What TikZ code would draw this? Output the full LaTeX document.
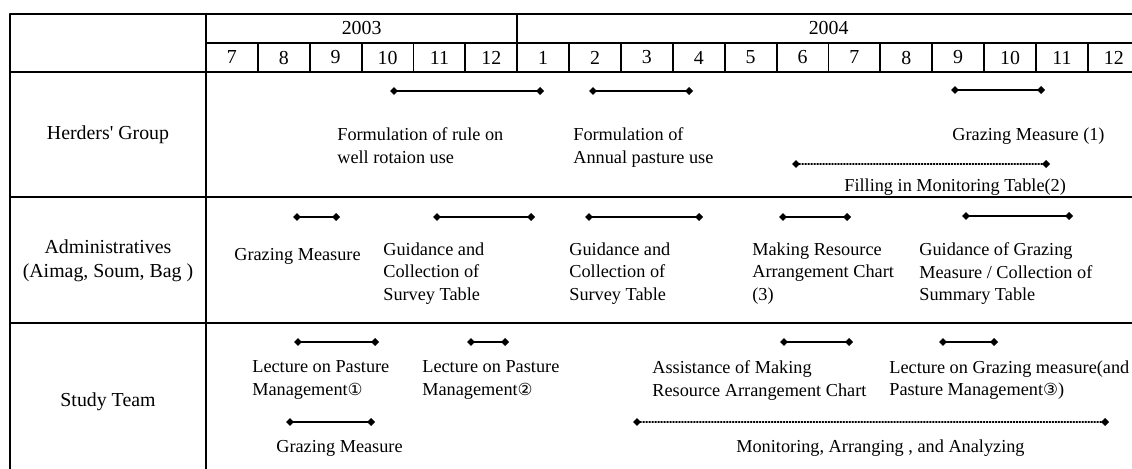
\documentclass[tikz,border=0pt]{standalone}
\usepackage{fontspec}
\setmainfont{Liberation Serif}
\newfontfamily\circfont{DejaVu Sans}
\usepackage{tikz}
\usetikzlibrary{arrows.meta}
\newcommand{\cnum}[1]{{\circfont\fontsize{9.5}{13}\selectfont #1}}
\tikzstyle{every node}=[font=\fontsize{10.4}{13}\selectfont, inner sep=0pt]
\tikzstyle{tableline}=[line width=1.1pt]
\tikzstyle{period}=[<->, line width=0.9pt]
\tikzstyle{plan}=[<->, line width=0.7pt, densely dotted]
\tikzstyle{task}=[anchor=north west, align=left]
\tikzstyle{rowname}=[font=\fontsize{11.3}{13.6}\selectfont, align=center]

\begin{document}
\begin{tikzpicture}[line cap=round,line join=round,>={Diamond[length=4.5pt,width=4.5pt]},x=0.02cm,y=-0.02cm]
\useasboundingbox (0,0) rectangle (1132,469);
% table
\draw [tableline] (10,14) -- (1132,14);
\draw [tableline] (206,43) -- (1132,43);
\draw [tableline] (10,72) -- (1132,72);
\draw [tableline] (10,197) -- (1132,197);
\draw [tableline] (10,323) -- (1132,323);
\draw [tableline] (10,14) -- (10,469);
\draw [tableline] (206,14) -- (206,469);
\draw [tableline] (517.25,14) -- (517.25,43);
\foreach \i in {1,...,17}
  \draw [tableline] ({206+51.875*\i},43) -- ({206+51.875*\i},72);
% years and months
\node [font=\fontsize{11.3}{13.6}\selectfont] (y2003) at (361.6,28.5) {2003};
\node [font=\fontsize{11.3}{13.6}\selectfont] (y2004) at (828.6,28.5) {2004};
\foreach \m [count=\i from 0] in {7,8,9,10,11,12,1,2,3,4,5,6,7,8,9,10,11,12}
  \node [font=\fontsize{11.3}{13.6}\selectfont] (m\i) at ({206+51.875*(\i+0.5)},57.5) {\m};
% rows
\node [rowname] (herders) at (108,135) {Herders\textquotesingle\ Group};
\node [rowname] (admin) at (108,261) {Administratives\\(Aimag, Soum, Bag )};
\node [rowname] (study) at (108,402) {Study Team};
% periods
\foreach \n/\xa/\xb/\yy in {hr1/390/544/91, hr2/589/693/91, hr3/951/1045/90,
    ad1/293/340/217, ad2/433/535/217, ad3/585/703/217, ad4/779/851/217, ad5/962/1073/216,
    st1/294/379/342, st2/467/509/342, st3/780/853/342, st4/939/998/342, st5/286/375/422}
{
  \coordinate (\n a) at (\xa,\yy);
  \coordinate (\n b) at (\xb,\yy);
  \draw [period] (\n a) -- (\n b);
}
\foreach \n/\xa/\xb/\yy in {hr4/792/1050/164, st6/633/1109/422}
{
  \coordinate (\n a) at (\xa,\yy);
  \coordinate (\n b) at (\xb,\yy);
  \draw [plan] (\n a) -- (\n b);
}
% herders' group
\node [task] (rule) at (337,127) {Formulation of rule on\\well rotaion use};
\node [task] (annual) at (573,127) {Formulation of\\Annual pasture use};
\node [task] (graze1) at (952,127) {Grazing Measure (1)};
\node [task] (filling) at (844,178) {Filling in Monitoring Table(2)};
% administratives
\node [task] (graze2) at (234,248) {Grazing Measure};
\node [task] (guide1) at (383,242) {Guidance and\\Collection of\\Survey Table};
\node [task] (guide2) at (569,242) {Guidance and\\Collection of\\Survey Table};
\node [task] (chart) at (752,242) {Making Resource\\Arrangement Chart\\(3)};
\node [task] (summary) at (919,242) {Guidance of Grazing\\Measure / Collection of\\Summary Table};
% study team
\node [task] (lect1) at (252,360) {Lecture on Pasture\\Management\cnum{①}};
\node [task] (lect2) at (422,360) {Lecture on Pasture\\Management\cnum{②}};
\node [task] (assist) at (652,360) {Assistance of Making\\Resource Arrangement Chart};
\node [task] (lect3) at (889,360) {Lecture on Grazing measure(and\\Pasture Management\cnum{③})};
\node [task] (graze3) at (276,440) {Grazing Measure};
\node [task] (monitor) at (736,439) {Monitoring, Arranging , and Analyzing};
\end{tikzpicture}
\end{document}
